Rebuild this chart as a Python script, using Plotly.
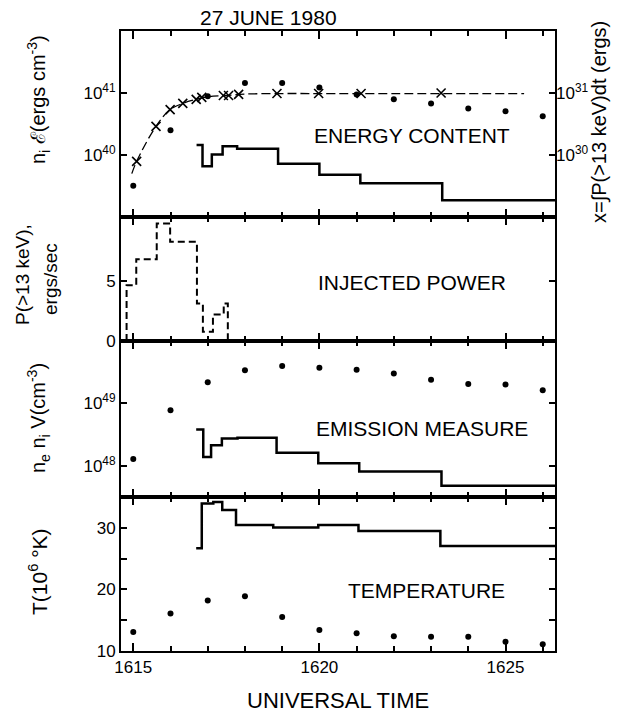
import plotly.graph_objects as go

# ---------------- data ----------------
minutes = [1615, 1616, 1617, 1618, 1619, 1620, 1621, 1622, 1623, 1624, 1625, 1626]

# Energy content panel
energy_dots = [3.2e39, 2.5e40, 8.9e40, 1.45e41, 1.45e41, 1.23e41, 9.5e40, 7.9e40,
               6.8e40, 5.6e40, 5.1e40, 4.2e40]
energy_step_t = [1616.70, 1616.86, 1617.11, 1617.40, 1617.79, 1618.89, 1620.00,
                 1621.10, 1623.30, 1626.33]
energy_step_v = [1.45e40, 6.6e39, 1.02e40, 1.38e40, 1.26e40, 7.2e39, 4.8e39,
                 3.5e39, 1.86e39, 1.86e39]
cross_t = [1615.09, 1615.61, 1615.99, 1616.33, 1616.69, 1616.84, 1617.42, 1617.56,
           1617.83, 1618.86, 1619.98, 1621.12, 1623.27]
cross_v = [7.9e29, 2.9e30, 5.4e30, 6.8e30, 7.9e30, 8.5e30, 9.1e30, 9.1e30,
           9.5e30, 9.8e30, 9.8e30, 9.8e30, 1.0e31]
integral_t = [1614.96, 1615.09, 1615.61, 1615.99, 1616.33, 1616.69, 1617.0, 1617.5,
              1618.0, 1619.0, 1620.0, 1622.0, 1625.5]
integral_v = [5.0e29, 7.9e29, 2.9e30, 5.4e30, 6.8e30, 7.9e30, 8.7e30, 9.1e30,
              9.6e30, 9.8e30, 9.8e30, 9.8e30, 9.8e30]

# Injected power panel
power_t = [1614.82, 1614.82, 1615.08, 1615.63, 1615.99, 1616.71, 1616.87, 1617.14,
           1617.43, 1617.54, 1623.30]
power_v = [0.0, 4.64, 6.8, 9.76, 8.24, 3.12, 0.77, 2.2, 3.12, 0.08, 0.08]

# Emission measure panel
em_dots = [1.29e48, 7.8e48, 2.19e49, 3.39e49, 3.98e49, 3.72e49, 3.47e49, 3.02e49,
           2.40e49, 2.04e49, 2.0e49, 1.62e49]
em_step_t = [1616.69, 1616.88, 1617.09, 1617.38, 1617.80, 1618.85, 1619.97,
             1621.07, 1623.28, 1626.33]
em_step_v = [3.8e48, 1.38e48, 2.14e48, 2.75e48, 2.82e48, 1.62e48, 1.10e48,
             8.1e47, 4.8e47, 4.8e47]

# Temperature panel
temp_dots = [13.1, 16.1, 18.2, 18.9, 15.5, 13.4, 12.9, 12.4, 12.3, 12.3, 11.5, 11.1]
temp_step_t = [1616.69, 1616.84, 1617.15, 1617.39, 1617.76, 1618.76, 1619.97,
               1621.05, 1623.25, 1626.33]
temp_step_v = [26.66, 33.96, 34.2, 32.87, 30.44, 30.06, 30.44, 29.5, 27.03, 27.03]

x_major = [1615, 1620, 1625]
x_major_text = ["1615", "1620", "1625"]

# ---------------- figure ----------------
W, H = 635, 719
L, R, T, B = 121, 80, 31, 68
FONT = "Liberation Sans"

fig = go.Figure()

dot = dict(color="black", size=6, symbol="circle")

fig.add_trace(go.Scatter(x=minutes, y=energy_dots, mode="markers", marker=dot,
                         xaxis="x", yaxis="y"))
fig.add_trace(go.Scatter(x=energy_step_t, y=energy_step_v, mode="lines",
                         line=dict(color="black", width=2.5, shape="hv"),
                         xaxis="x", yaxis="y"))
fig.add_trace(go.Scatter(x=integral_t, y=integral_v, mode="lines",
                         line=dict(color="black", width=1.3, dash="9px,4px", shape="spline"),
                         xaxis="x", yaxis="y5"))
fig.add_trace(go.Scatter(x=cross_t, y=cross_v, mode="markers",
                         marker=dict(symbol="x-thin-open", size=9, color="black",
                                     line=dict(width=1.6, color="black")),
                         xaxis="x", yaxis="y5"))

fig.add_trace(go.Scatter(x=power_t, y=power_v, mode="lines",
                         line=dict(color="black", width=2, dash="7px,4px", shape="hv"),
                         xaxis="x2", yaxis="y2"))

fig.add_trace(go.Scatter(x=minutes, y=em_dots, mode="markers", marker=dot,
                         xaxis="x3", yaxis="y3"))
fig.add_trace(go.Scatter(x=em_step_t, y=em_step_v, mode="lines",
                         line=dict(color="black", width=2.5, shape="hv"),
                         xaxis="x3", yaxis="y3"))

fig.add_trace(go.Scatter(x=minutes, y=temp_dots, mode="markers", marker=dot,
                         xaxis="x4", yaxis="y4"))
fig.add_trace(go.Scatter(x=temp_step_t, y=temp_step_v, mode="lines",
                         line=dict(color="black", width=2.5, shape="hv"),
                         xaxis="x4", yaxis="y4"))

xr = [1614.67, 1626.33]
tickfont = dict(family=FONT, size=17, color="black")


def xaxis(anchor, labels):
    d = dict(range=xr, anchor=anchor, tickmode="array", tickvals=x_major,
             ticks="inside", ticklen=8, tickwidth=1.5, tickcolor="black",
             minor=dict(tick0=1615, dtick=1, ticks="inside", ticklen=5,
                        tickwidth=1.5, tickcolor="black"),
             showline=True, linewidth=2, linecolor="black", mirror="ticks",
             showgrid=False, zeroline=False, tickfont=tickfont)
    if labels:
        d.update(ticktext=x_major_text, showticklabels=True)
    else:
        d.update(showticklabels=False)
    return d


def yaxis(domain, **kw):
    d = dict(domain=domain, ticks="inside", ticklen=6, tickwidth=1.5,
             tickcolor="black", showline=True, linewidth=2, linecolor="black",
             mirror="ticks", showgrid=False, zeroline=False, tickfont=tickfont)
    d.update(kw)
    return d


def frac_y(py):
    return (H - B - py) / (H - T - B)


d1 = [frac_y(217), 1.0]
d2 = [frac_y(341), frac_y(217)]
d3 = [frac_y(497), frac_y(341)]
d4 = [0.0, frac_y(497)]

fig.update_layout(
    width=W, height=H, margin=dict(l=L, r=R, t=T, b=B),
    paper_bgcolor="white", plot_bgcolor="white", showlegend=False,
    font=dict(family=FONT, color="black"),
    xaxis=xaxis("y", False), xaxis2=xaxis("y2", False),
    xaxis3=xaxis("y3", False), xaxis4=xaxis("y4", True),
    yaxis=yaxis(d1, type="log", range=[39, 42], tickmode="array",
                tickvals=[1e40, 1e41], ticktext=["10<sup>40</sup>", "10<sup>41</sup>"]),
    yaxis5=dict(overlaying="y", side="right", anchor="x", type="log", range=[29, 32],
                tickmode="array", tickvals=[1e30, 1e31],
                ticktext=["10<sup>30</sup>", "10<sup>31</sup>"], ticks="inside",
                ticklen=6, tickwidth=1.5, tickcolor="black", showline=False,
                showgrid=False, zeroline=False, tickfont=tickfont),
    yaxis2=yaxis(d2, range=[0, 10.3], tickmode="array", tickvals=[0, 5],
                 ticktext=["0", "5"]),
    yaxis3=yaxis(d3, type="log", range=[47.5, 50.0], tickmode="array",
                 tickvals=[1e48, 1e49], ticktext=["10<sup>48</sup>", "10<sup>49</sup>"]),
    yaxis4=yaxis(d4, range=[10, 35], tickmode="array", tickvals=[10, 20, 30],
                 ticktext=["10", "20", "30"],
                 minor=dict(tick0=10, dtick=5, ticks="inside", ticklen=6,
                            tickwidth=1.5, tickcolor="black")),
)


def px_ann(text, px, py, size, angle=0, xanchor="center"):
    fig.add_annotation(text=text, x=(px - L) / (W - L - R), y=frac_y(py),
                       xref="paper", yref="paper", showarrow=False,
                       textangle=angle, xanchor=xanchor, yanchor="middle",
                       font=dict(family=FONT, size=size, color="black"))


px_ann("27 JUNE 1980", 268, 17, 21)
px_ann("UNIVERSAL TIME", 338, 700, 22)
px_ann("ENERGY CONTENT", 412, 135, 21)
px_ann("INJECTED POWER", 412, 282, 21)
px_ann("EMISSION MEASURE", 422, 428, 21)
px_ann("TEMPERATURE", 426, 590, 21)

px_ann("n<sub>i</sub> ℰ(ergs cm<sup>-3</sup>)", 38, 100, 20, angle=-90)
px_ann("P(>13 keV),", 22, 275, 19, angle=-90)
px_ann("ergs/sec", 50, 279, 19, angle=-90)
px_ann("n<sub>e</sub> n<sub>i</sub> V(cm<sup>-3</sup>)", 38, 418, 20, angle=-90)
px_ann("T(10<sup>6</sup> °K)", 38, 572, 21, angle=-90)
px_ann("x=∫P(>13 keV)dt (ergs)", 600, 122, 20, angle=-90)

fig.write_html("out.html")
